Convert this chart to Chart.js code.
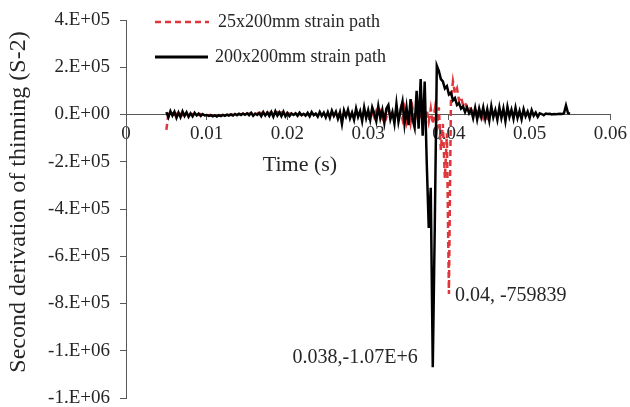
<!DOCTYPE html>
<html>
<head>
<meta charset="utf-8">
<script src="https://cdn.jsdelivr.net/npm/chart.js@4.4.1/dist/chart.umd.min.js"></script>
<style>
  html, body { margin: 0; padding: 0; background: #fff; }
  #grafico { display: block; }
</style>
</head>
<body>
<canvas id="grafico" width="630" height="407"></canvas>
<script>
// second derivative of thinning, values in thousands (s-2 / 1000)
// one sample every 1/4000 s starting at 0.005 s
var serie200 = [
  10, -12, 14, -5, 12, -14, 8, -11, 13, -6,
  9, -10, 5, -8, 7, -4, 4, -6, 2, -4,
  -2, -6, -3, -8, -4, -9, -3, -7, -2, -6,
  -1, -5, 0, -4, 2, -3, 3, -2, 4, -1,
  5, -3, 7, -5, 4, -2, 6, -7, 10, -4,
  8, -6, 11, -9, 14, -5, 9, -7, 12, -8,
  6, -7, 4, -2, 5, -6, 8, -3, 3, -5,
  7, -8, 10, -3, 4, -9, 11, -6, 8, -12,
  10, -14, 16, -6, 12, -18, 9, -40, 17, -8,
  20, -16, 8, -22, 25, -10, 14, -28, 30, -15,
  18, -22, 30, 5, -28, 35, -15, 20, -35, 25,
  40, -20, 10, -38, 45, -30, 15, 55, -40, 30,
  -45, 65, -20, -55, 100, -60, 150, -90, 140, -200,
  -480, -310, -1070, -470, 207, 185, 150, 140, 110, 120,
  85, 92, 60, 70, 40, 48, 25, 35, 10, 30,
  5, 20, -15, 28, -20, 25, -10, 30, -18, 22,
  -25, 35, -12, 18, -22, 30, -15, 25, -28, 32,
  -10, 20, -18, 28, -15, 15, -20, 22, -8, 12,
  -15, 18, -5, 8, -10, 5, 2, -3, 4, 2,
  3, 0, 2, 1, 2, 3, 2, 5, 38, 6,
  3
];
var serie25 = [
  -65, 2, -3, 4, -2, 3, -4, 2, -3, 1,
  -2, 3, -1, 2, -3, 1, -2, 2, -1, 0,
  -2, -3, -2, -4, -3, -5, -3, -4, -2, -3,
  -1, -2, 0, -1, 1, 0, 2, 1, 3, 2,
  4, 3, 5, 4, 6, 5, 7, 6, 5, 7,
  8, 6, 9, 7, 8, 10, 7, 9, 6, 8,
  5, 3, 4, 2, 3, 1, 2, 0, 1, -1,
  2, -2, 3, -1, 2, -3, 4, -2, 3, -4,
  5, -3, 6, -5, 4, -6, 7, -4, 5, -6,
  8, -5, 6, -8, 9, -6, 7, -9, 10, -7,
  12, -8, 10, -12, 14, -10, 12, -14, 15, -12,
  18, -15, 14, -18, 20, -16, 22, -20, 25, -30,
  20, -35, 25, -30, 15, 10, -20, 15, -25, 20,
  -30, 25, -40, 20, -60, 30, -150, -40, -270, -80,
  -759.839, 60, 140, 90, 110, 60, 75, 40, 50, 25,
  35, 15, 25, 5, 20, -5, 12, -15, 8, -30,
  0
];
var nomes = ['25x200mm strain path', '200x200mm strain path'];
var amostraInicial = 20;   // 20 / 4000 = 0.005 s
var amostrasPorSegundo = 4000;
var ticksX = [0, 0.01, 0.02, 0.03, 0.04, 0.05, 0.06];
var limitesY = [-1200000, 400000];

var fonte = '"Liberation Serif", "Times New Roman", serif';
var corVermelha = 'rgb(222, 54, 58)';
var corPreta = '#000000';
var corEixo = '#595959';
var corTexto = '#262626';

function montarPontos(valores) {
  var pontos = [];
  for (var i = 0; i < valores.length; i++) {
    pontos.push({ x: (amostraInicial + i) / amostrasPorSegundo, y: valores[i] * 1000 });
  }
  return pontos;
}

function minimo(pontos) {
  var m = pontos[0];
  for (var i = 1; i < pontos.length; i++) {
    if (pontos[i].y < m.y) m = pontos[i];
  }
  return m;
}

// Excel style "0.E+00"
function formatoCientifico(v) {
  if (v === 0) return '0.E+00';
  var exp = Math.floor(Math.log10(Math.abs(v)));
  var mant = Math.round(v / Math.pow(10, exp));
  return mant + '.E+' + (exp < 10 ? '0' : '') + exp;
}

var pontos200 = montarPontos(serie200);
var pontos25 = montarPontos(serie25);
var min200 = minimo(pontos200);
var min25 = minimo(pontos25);
var rotulo25 = min25.x + ', ' + Math.round(min25.y);
var rotulo200 = min200.x + ',' + (min200.y / 1e6).toFixed(2) + 'E+6';

var extras = {
  id: 'extras',
  afterDraw: function(chart) {
    var ctx = chart.ctx;
    var sx = chart.scales.x, sy = chart.scales.y;
    ctx.save();

    // legend inside the plot
    ctx.lineWidth = 2.5;
    ctx.strokeStyle = corVermelha;
    ctx.setLineDash([6, 4]);
    ctx.beginPath(); ctx.moveTo(155, 22); ctx.lineTo(209, 22); ctx.stroke();
    ctx.strokeStyle = corPreta;
    ctx.lineWidth = 3;
    ctx.setLineDash([]);
    ctx.beginPath(); ctx.moveTo(155, 57); ctx.lineTo(208, 57); ctx.stroke();
    ctx.fillStyle = corTexto;
    ctx.font = '18px ' + fonte;
    ctx.textAlign = 'left';
    ctx.textBaseline = 'middle';
    ctx.fillText(nomes[0], 218, 22);
    ctx.fillText(nomes[1], 215, 57);

    // data labels at the two minimums
    ctx.font = '20px ' + fonte;
    ctx.fillText(rotulo25, sx.getPixelForValue(min25.x) + 6, sy.getPixelForValue(min25.y) + 2);
    ctx.textAlign = 'right';
    ctx.fillText(rotulo200, sx.getPixelForValue(min200.x) - 15, sy.getPixelForValue(min200.y) - 10);

    // axis titles
    ctx.textAlign = 'center';
    ctx.font = '22px ' + fonte;
    ctx.fillText('Time (s)', 300, 165);
    ctx.translate(19, 202);
    ctx.rotate(-Math.PI / 2);
    ctx.font = '24px ' + fonte;
    ctx.fillText('Second derivation of thinning (S-2)', 0, 0);
    ctx.restore();
  }
};

var grafico = new Chart(document.getElementById('grafico').getContext('2d'), {
  type: 'line',
  data: {
    datasets: [{
      label: nomes[1],
      data: pontos200,
      borderColor: corPreta,
      borderWidth: 2.5,
      pointRadius: 0,
      tension: 0
    }, {
      label: nomes[0],
      data: pontos25,
      borderColor: corVermelha,
      borderWidth: 2.5,
      borderDash: [6, 4],
      pointRadius: 0,
      tension: 0
    }]
  },
  options: {
    responsive: false,
    animation: false,
    devicePixelRatio: 1,
    layout: { padding: { left: 0, top: 20, right: 19, bottom: 9 } },
    plugins: {
      legend: { display: false },
      tooltip: { enabled: false }
    },
    scales: {
      x: {
        type: 'linear',
        position: { y: 0 },
        min: ticksX[0],
        max: ticksX[ticksX.length - 1],
        afterBuildTicks: function(scale) {
          scale.ticks = ticksX.map(function(v) { return { value: v }; });
        },
        afterFit: function(scale) { scale.height = 0; },
        ticks: {
          color: corTexto,
          font: { family: fonte, size: 19 },
          padding: 3,
          maxRotation: 0,
          autoSkip: false,
          callback: function(v) { return v === 0 ? '0' : v.toFixed(2); }
        },
        grid: { display: true, drawOnChartArea: false, drawTicks: true, tickLength: 5, color: corEixo },
        border: { display: true, color: corEixo, width: 1 }
      },
      y: {
        type: 'linear',
        min: limitesY[0],
        max: limitesY[1],
        afterFit: function(scale) {
          scale.width = 126;
          scale.paddingTop = 0;
          scale.paddingBottom = 0;
        },
        ticks: {
          stepSize: 200000,
          color: corTexto,
          font: { family: fonte, size: 19 },
          padding: 10,
          callback: formatoCientifico
        },
        grid: { display: true, drawOnChartArea: false, drawTicks: true, tickLength: 6, color: corEixo },
        border: { display: true, color: corEixo, width: 1 }
      }
    }
  },
  plugins: [extras]
});
</script>
</body>
</html>
